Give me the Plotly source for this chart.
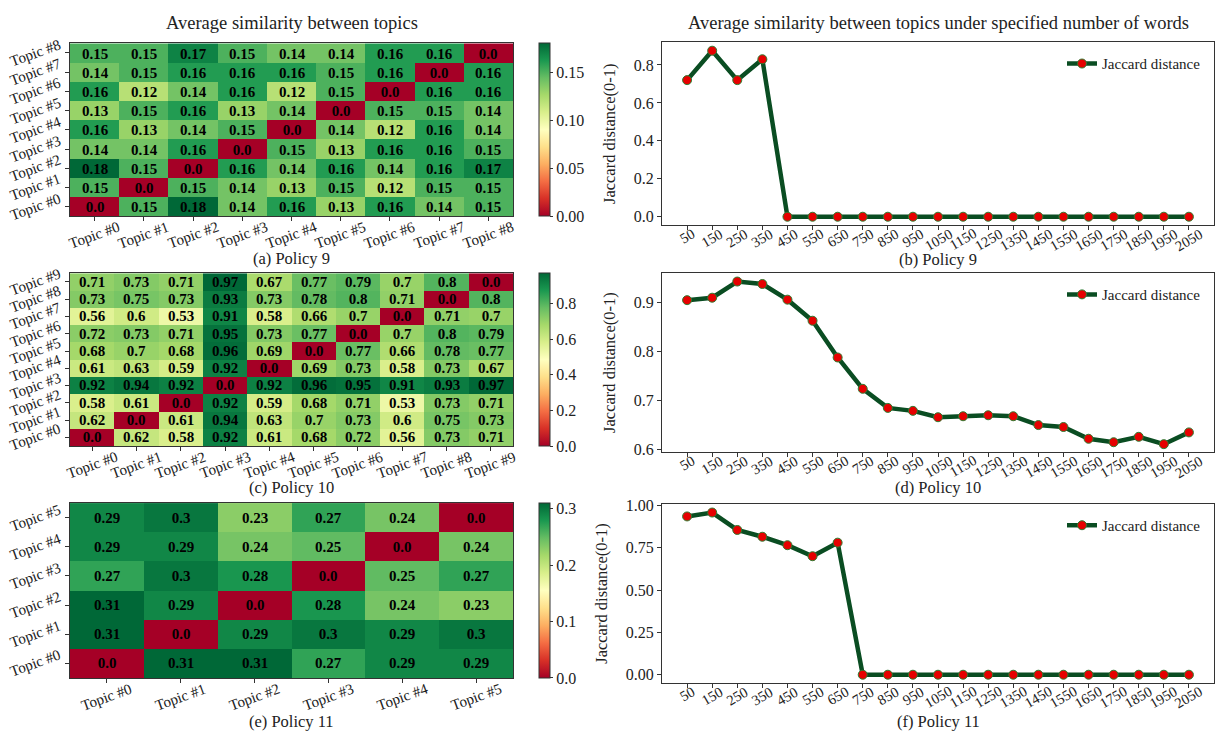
import plotly.graph_objects as go

W, H = 1220, 736
FONT = "Liberation Serif"

# ---------------- data ----------------
topics9 = [f"Topic #{i}" for i in range(9)]
sim9 = [  # rows Topic #0 .. #8, columns Topic #0 .. #8
    [0.0, 0.15, 0.18, 0.14, 0.16, 0.13, 0.16, 0.14, 0.15],
    [0.15, 0.0, 0.15, 0.14, 0.13, 0.15, 0.12, 0.15, 0.15],
    [0.18, 0.15, 0.0, 0.16, 0.14, 0.16, 0.14, 0.16, 0.17],
    [0.14, 0.14, 0.16, 0.0, 0.15, 0.13, 0.16, 0.16, 0.15],
    [0.16, 0.13, 0.14, 0.15, 0.0, 0.14, 0.12, 0.16, 0.14],
    [0.13, 0.15, 0.16, 0.13, 0.14, 0.0, 0.15, 0.15, 0.14],
    [0.16, 0.12, 0.14, 0.16, 0.12, 0.15, 0.0, 0.16, 0.16],
    [0.14, 0.15, 0.16, 0.16, 0.16, 0.15, 0.16, 0.0, 0.16],
    [0.15, 0.15, 0.17, 0.15, 0.14, 0.14, 0.16, 0.16, 0.0],
]

topics10 = [f"Topic #{i}" for i in range(10)]
sim10 = [
    [0.0, 0.62, 0.58, 0.92, 0.61, 0.68, 0.72, 0.56, 0.73, 0.71],
    [0.62, 0.0, 0.61, 0.94, 0.63, 0.7, 0.73, 0.6, 0.75, 0.73],
    [0.58, 0.61, 0.0, 0.92, 0.59, 0.68, 0.71, 0.53, 0.73, 0.71],
    [0.92, 0.94, 0.92, 0.0, 0.92, 0.96, 0.95, 0.91, 0.93, 0.97],
    [0.61, 0.63, 0.59, 0.92, 0.0, 0.69, 0.73, 0.58, 0.73, 0.67],
    [0.68, 0.7, 0.68, 0.96, 0.69, 0.0, 0.77, 0.66, 0.78, 0.77],
    [0.72, 0.73, 0.71, 0.95, 0.73, 0.77, 0.0, 0.7, 0.8, 0.79],
    [0.56, 0.6, 0.53, 0.91, 0.58, 0.66, 0.7, 0.0, 0.71, 0.7],
    [0.73, 0.75, 0.73, 0.93, 0.73, 0.78, 0.8, 0.71, 0.0, 0.8],
    [0.71, 0.73, 0.71, 0.97, 0.67, 0.77, 0.79, 0.7, 0.8, 0.0],
]

topics11 = [f"Topic #{i}" for i in range(6)]
sim11 = [
    [0.0, 0.31, 0.31, 0.27, 0.29, 0.29],
    [0.31, 0.0, 0.29, 0.3, 0.29, 0.3],
    [0.31, 0.29, 0.0, 0.28, 0.24, 0.23],
    [0.27, 0.3, 0.28, 0.0, 0.25, 0.27],
    [0.29, 0.29, 0.24, 0.25, 0.0, 0.24],
    [0.29, 0.3, 0.23, 0.27, 0.24, 0.0],
]

word_counts = [str(v) for v in range(50, 2051, 100)]
jac9 = [0.72, 0.875, 0.72, 0.83] + [0.0] * 17
jac10 = [0.905, 0.910, 0.943, 0.938, 0.906, 0.863, 0.788, 0.724, 0.685, 0.679,
         0.666, 0.668, 0.670, 0.668, 0.650, 0.646, 0.622, 0.615, 0.626, 0.611, 0.635]
jac11 = [0.935, 0.958, 0.855, 0.815, 0.765, 0.700, 0.780] + [0.0] * 14

# ---------------- layout helpers ----------------
def px_x(x):
    return x / W

def px_y(y):
    return 1 - y / H

HM_X = (70, 513)
LN_X = (662, 1214)
HM_ROWS = [(37, 213), (271, 447), (505, 683)]
LN_ROWS = [(36, 222), (271, 453), (506, 688)]
FRAME = "#333333"
TXT = "#222222"
LINE_COL = "#0a4d22"

fig = go.Figure()
annos = []

heat_specs = [
    (sim9, topics9, 0.05, ".2f", "(a) Policy 9"),
    (sim10, topics10, 0.2, ".1f", "(c) Policy 10"),
    (sim11, topics11, 0.1, ".1f", "(e) Policy 11"),
]
line_specs = [
    (jac9, [-0.044, 0.919], 0.2, ".1f", "(b) Policy 9"),
    (jac10, [0.595, 0.960], 0.1, ".1f", "(d) Policy 10"),
    (jac11, [-0.048, 1.008], 0.25, ".2f", "(f) Policy 11"),
]
HM_SUB_Y = [256, 489, 727]
LN_SUB_Y = [257, 489, 727]


def text_anno(text, x, y, xref="paper", yref="paper", xa="center", ya="middle",
              size=15, angle=0):
    return dict(text=text, x=x, y=y, xref=xref, yref=yref, xanchor=xa, yanchor=ya,
                textangle=angle, showarrow=False, borderpad=0,
                font=dict(family=FONT, size=size, color=TXT))


for i, (z, labels, dt, fmt, sub) in enumerate(heat_specs):
    ax = 2 * i + 1
    xa = "x" if ax == 1 else f"x{ax}"
    ya = "y" if ax == 1 else f"y{ax}"
    top, bot = HM_ROWS[i]
    n = len(labels)
    text = [[str(v) for v in row] for row in z]
    fig.add_trace(go.Heatmap(
        z=z, x=labels, y=labels, text=text,
        texttemplate="<b>%{text}</b>",
        textfont=dict(family=FONT, size=15, color="black"),
        colorscale="RdYlGn", xaxis=xa, yaxis=ya, xgap=0, ygap=0,
        colorbar=dict(
            x=px_x(539), xanchor="left", thickness=11, xpad=0, ypad=0,
            y=px_y(bot), yanchor="bottom", len=(bot - top) / H, lenmode="fraction",
            tickformat=fmt, dtick=dt, tick0=0, ticks="outside", ticklen=3,
            tickcolor=FRAME,
            tickfont=dict(family=FONT, size=16, color=TXT),
            outlinewidth=1, outlinecolor=FRAME,
        ),
    ))
    common = dict(showline=True, linecolor=FRAME, linewidth=1, mirror=True,
                  ticks="outside", ticklen=4, tickcolor=FRAME, showgrid=False,
                  zeroline=False, showticklabels=False, range=[-0.5, n - 0.5],
                  autorange=False)
    fig.layout[f"xaxis{'' if ax == 1 else ax}"] = dict(
        domain=[px_x(HM_X[0]), px_x(HM_X[1])], anchor=ya, **common)
    fig.layout[f"yaxis{'' if ax == 1 else ax}"] = dict(
        domain=[px_y(bot), px_y(top)], anchor=xa, **common)
    for j, lab in enumerate(labels):
        annos.append(text_anno(lab, j, px_y(bot + 1), xref=xa, ya="top", angle=-20))
        annos.append(text_anno(lab, px_x(HM_X[0] - 6), j, yref=ya, xa="right",
                               ya="middle", angle=-20))
    annos.append(text_anno(sub, px_x(291), px_y(HM_SUB_Y[i]), size=16.5))

for i, (vals, rng, dt, fmt, sub) in enumerate(line_specs):
    ax = 2 * i + 2
    xa, ya = f"x{ax}", f"y{ax}"
    top, bot = LN_ROWS[i]
    leg = "legend" if i == 0 else f"legend{i + 1}"
    fig.add_trace(go.Scatter(
        x=word_counts, y=vals, mode="lines+markers", name="Jaccard distance",
        line=dict(color=LINE_COL, width=4.5),
        marker=dict(color="#e60000", size=9, line=dict(color="#2e7d32", width=1)),
        xaxis=xa, yaxis=ya, legend=leg, showlegend=True,
    ))
    fig.layout[f"xaxis{ax}"] = dict(
        domain=[px_x(LN_X[0]), px_x(LN_X[1])], anchor=ya, type="category",
        range=[-1, 21], autorange=False, showline=True, linecolor=FRAME, linewidth=1,
        mirror=True, ticks="outside", ticklen=4, tickcolor=FRAME, showgrid=False,
        showticklabels=False)
    fig.layout[f"yaxis{ax}"] = dict(
        domain=[px_y(bot), px_y(top)], anchor=xa, range=rng, autorange=False,
        dtick=dt, tick0=0,
        tickformat=fmt, showline=True, linecolor=FRAME, linewidth=1, mirror=True,
        ticks="outside", ticklen=4, tickcolor=FRAME, showgrid=False, zeroline=False,
        tickfont=dict(family=FONT, size=16, color=TXT),
        title=dict(text="Jaccard distance(0-1)", font=dict(family=FONT, size=16.5, color=TXT),
                   standoff=14))
    fig.layout[leg] = dict(
        x=px_x(1206), xanchor="right", y=px_y(top + 5), yanchor="top",
        bgcolor="rgba(255,255,255,0)", font=dict(family=FONT, size=15, color=TXT),
        itemwidth=30)
    for j, lab in enumerate(word_counts):
        annos.append(text_anno(lab, j, px_y(bot - 1), xref=xa, ya="top", angle=-30, size=14.5))
    annos.append(text_anno(sub, px_x(938), px_y(LN_SUB_Y[i]), size=16.5))

annos.append(text_anno("Average similarity between topics", px_x(292), px_y(16), size=18.5))
annos.append(text_anno("Average similarity between topics under specified number of words",
                       px_x(938), px_y(16), size=18.5))

fig.update_layout(
    annotations=annos,
    width=W, height=H, autosize=False,
    margin=dict(l=0, r=0, t=0, b=0),
    paper_bgcolor="white", plot_bgcolor="white",
    font=dict(family=FONT, color=TXT),
)

fig.write_html("out.html")
